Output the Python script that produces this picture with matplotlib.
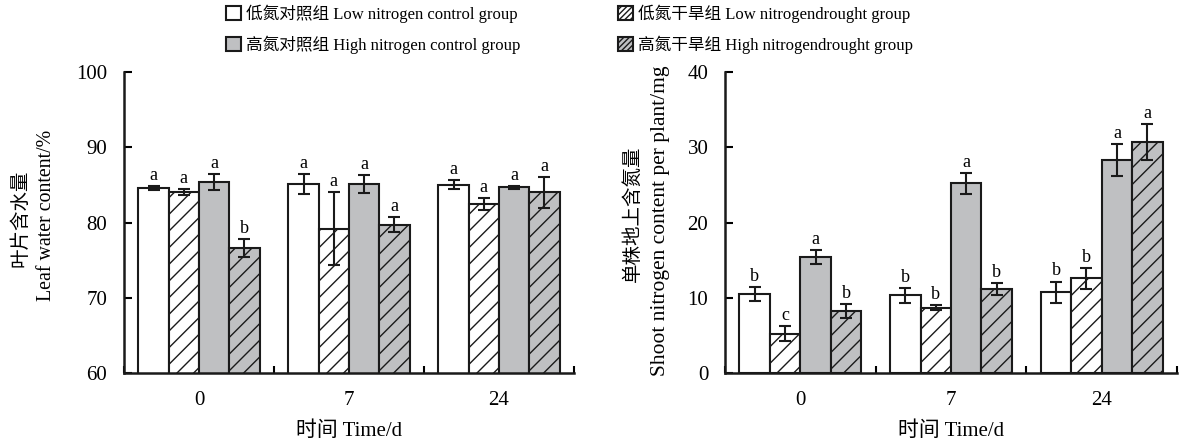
import matplotlib
matplotlib.use("Agg")
import matplotlib.pyplot as plt
import numpy as np
from matplotlib.patches import Patch

plt.rcParams['font.family'] = ['Liberation Serif', 'Noto Sans CJK SC']
plt.rcParams['hatch.linewidth'] = 1.0
plt.rcParams['axes.unicode_minus'] = False

categories = ['0', '7', '24']
series_names = ['低氮对照组 Low nitrogen control group',
                '低氮干旱组 Low nitrogendrought group',
                '高氮对照组 High nitrogen control group',
                '高氮干旱组 High nitrogendrought group']

# Leaf water content (%)
wc_low_ctrl = [84.6, 85.1, 85.0]
wc_low_ctrl_err = [0.3, 1.3, 0.6]
wc_low_dr = [84.1, 79.2, 82.4]
wc_low_dr_err = [0.4, 4.8, 0.8]
wc_high_ctrl = [85.4, 85.1, 84.7]
wc_high_ctrl_err = [1.1, 1.15, 0.2]
wc_high_dr = [76.6, 79.7, 84.0]
wc_high_dr_err = [1.2, 1.0, 2.1]
wc_letters = [['a', 'a', 'a'], ['a', 'a', 'a'], ['a', 'a', 'a'], ['b', 'a', 'a']]

# Shoot nitrogen content per plant (mg)
n_low_ctrl = [10.5, 10.3, 10.7]
n_low_ctrl_err = [0.9, 1.0, 1.45]
n_low_dr = [5.2, 8.7, 12.6]
n_low_dr_err = [1.0, 0.3, 1.4]
n_high_ctrl = [15.4, 25.2, 28.3]
n_high_ctrl_err = [0.9, 1.35, 2.1]
n_high_dr = [8.2, 11.1, 30.7]
n_high_dr_err = [0.95, 0.8, 2.4]
n_letters = [['b', 'b', 'b'], ['c', 'b', 'b'], ['a', 'a', 'a'], ['b', 'b', 'a']]

GRAY = '#bfc0c2'
EDGE = '#1a1a1a'
styles = [dict(facecolor='white', hatch=None),
          dict(facecolor='white', hatch='//'),
          dict(facecolor=GRAY, hatch=None),
          dict(facecolor=GRAY, hatch='//')]

W, H = 1180, 443
fig = plt.figure(figsize=(11.8, 4.43), dpi=100)
ax1 = fig.add_axes([124/W, 70/H, 450/W, 301/H])
ax2 = fig.add_axes([725/W, 70/H, 452/W, 301/H])

bw = 0.202
x = np.arange(len(categories))
offsets = (np.arange(4) - 1.5) * bw


def draw(ax, vals, errs, letters, ylim, yticks):
    for i in range(4):
        ax.bar(x + offsets[i], vals[i], bw,
               color=styles[i]['facecolor'], hatch=styles[i]['hatch'],
               edgecolor=EDGE, linewidth=1.5, zorder=2)
        ax.errorbar(x + offsets[i], vals[i], yerr=errs[i], fmt='none',
                    ecolor=EDGE, elinewidth=1.5, capsize=4, capthick=1.5, zorder=3)
        for j in range(len(categories)):
            ax.annotate(letters[i][j], (x[j] + offsets[i], vals[i][j] + errs[i][j]),
                        xytext=(0, 1.5), textcoords='offset points',
                        ha='center', va='bottom', fontsize=13)
    ax.set_ylim(*ylim)
    ax.set_xlim(-0.5, 2.5)
    ax.set_yticks(yticks)
    ax.set_xticks(x)
    ax.set_xticklabels(categories)
    ax.tick_params(axis='x', length=0, labelsize=15, pad=13)
    ax.set_xticks([-0.5, 0.5, 1.5, 2.5], minor=True)
    ax.tick_params(axis='x', which='minor', direction='in', length=5, width=1.5)
    ax.tick_params(axis='y', direction='in', length=6, width=1.5, labelsize=15, pad=12)
    for s in ['top', 'right']:
        ax.spines[s].set_visible(False)
    for s in ['left', 'bottom']:
        ax.spines[s].set_linewidth(1.8)
        ax.spines[s].set_color(EDGE)
    ax.set_xlabel('时间 Time/d', fontsize=15, labelpad=8)


draw(ax1, [wc_low_ctrl, wc_low_dr, wc_high_ctrl, wc_high_dr],
     [wc_low_ctrl_err, wc_low_dr_err, wc_high_ctrl_err, wc_high_dr_err],
     wc_letters, (60, 100), [60, 70, 80, 90, 100])
draw(ax2, [n_low_ctrl, n_low_dr, n_high_ctrl, n_high_dr],
     [n_low_ctrl_err, n_low_dr_err, n_high_ctrl_err, n_high_dr_err],
     n_letters, (0, 40), [0, 10, 20, 30, 40])

# y-axis titles (two lines each)
fig.text(20/W, 1 - 218/H, '叶片含水量', rotation=90, ha='center', va='center', fontsize=14)
fig.text(47/W, 1 - 215/H, 'Leaf water content/%', rotation=90, ha='center', va='center', fontsize=14.3)
fig.text(632/W, 1 - 214/H, '单株地上含氮量', rotation=90, ha='center', va='center', fontsize=14)
fig.text(660/W, 1 - 221/H, 'Shoot nitrogen content per plant/mg', rotation=90, ha='center',
         va='center', fontsize=15.5)

leg_styles = [dict(facecolor='white', hatch=None),
              dict(facecolor='white', hatch='//////'),
              dict(facecolor=GRAY, hatch=None),
              dict(facecolor=GRAY, hatch='//////')]
handles = [Patch(facecolor=leg_styles[i]['facecolor'], hatch=leg_styles[i]['hatch'],
                 edgecolor=EDGE, linewidth=1.5) for i in range(4)]
order = [0, 2, 1, 3]
fig.legend([handles[i] for i in order], [series_names[i] for i in order],
           loc='upper left', bbox_to_anchor=(224/W, 1 - 3/H), ncol=2, frameon=False,
           fontsize=12, handlelength=0.9, handleheight=0.9, handletextpad=0.3,
           columnspacing=5.85, labelspacing=0.75, borderpad=0.1, borderaxespad=0)

fig.savefig('out.png', dpi=100)
